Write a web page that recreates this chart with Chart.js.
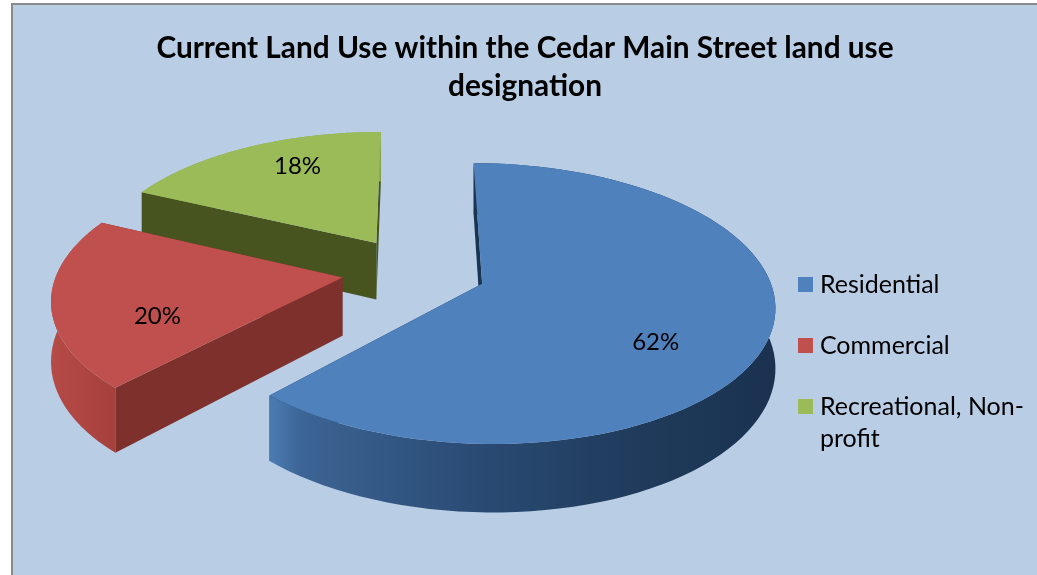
<!DOCTYPE html>
<html>
<head>
<meta charset="utf-8">
<title>Current Land Use</title>
<script src="https://cdn.jsdelivr.net/npm/chart.js@4"></script>
<style>
    html, body { margin: 0; padding: 0; background: #ffffff; overflow: hidden; }
    #frame {
        position: absolute; left: 11px; top: 3px; width: 1026px; height: 572px;
        box-sizing: border-box; border-left: 2px solid #8a8a8a; border-top: 2px solid #8a8a8a;
        background: #b9cde5;
    }
    #land-use { display: block; }
</style>
</head>
<body>
<div id="frame"><canvas id="land-use" width="1024" height="570"></canvas></div>
<script>
const titleLines = ['Current Land Use within the Cedar Main Street land use', 'designation'];
const categories = ['Residential', 'Commercial', 'Recreational, Non-profit'];
const legendLines = [['Residential'], ['Commercial'], ['Recreational, Non-', 'profit']];
const shares = [62, 20, 18];

const topColors = ['#4f81bd', '#c0504d', '#9bbb59'];
const radialWallColors = ['#1b3450', '#7e302d', '#47541f'];
const labelShift = [[5, 27], [-12, 23], [2, -17]];
const legendShift = [-3, 75];

// tilt of the pie: plane coordinates (radius = 1) to canvas pixels
const CX = 401, CY = 266, SX = 285, SY = 134, PERSP = 0.14, DEPTH = 58;

function project(x, y, z) {
    const w = 1 - PERSP * y;
    return [CX + SX * x / w, CY + SY * y / w + (z || 0) * DEPTH / w];
}

function slicePlane(arc) {
    const mid = (arc.startAngle + arc.endAngle) / 2;
    const explode = arc.options.offset / arc.outerRadius;
    return { ox: explode * Math.cos(mid), oy: explode * Math.sin(mid), mid };
}

function rimPoints(arc, z) {
    const p = slicePlane(arc);
    const pts = [];
    const steps = 90;
    for (let i = 0; i <= steps; i++) {
        const a = arc.startAngle + (arc.endAngle - arc.startAngle) * i / steps;
        pts.push(project(p.ox + Math.cos(a), p.oy + Math.sin(a), z));
    }
    return pts;
}

function fillPoly(ctx, pts, fill) {
    ctx.beginPath();
    pts.forEach((pt, i) => i ? ctx.lineTo(pt[0], pt[1]) : ctx.moveTo(pt[0], pt[1]));
    ctx.closePath();
    ctx.fillStyle = fill;
    ctx.fill();
}

function rimGradient(ctx, index) {
    if (index === 0) {
        const g = ctx.createLinearGradient(260, 0, 760, 0);
        g.addColorStop(0, '#4a79b0');
        g.addColorStop(0.06, '#3c6494');
        g.addColorStop(0.4, '#2a4b74');
        g.addColorStop(0.75, '#1f3a5a');
        g.addColorStop(1, '#1a3250');
        return g;
    }
    if (index === 1) {
        const g = ctx.createLinearGradient(30, 0, 115, 0);
        g.addColorStop(0, '#b84c48');
        g.addColorStop(1, '#a23e3b');
        return g;
    }
    return '#8fa94f';
}

function legendSwatch(color) {
    const c = document.createElement('canvas');
    c.width = 15;
    c.height = 15;
    const g = c.getContext('2d');
    g.fillStyle = color;
    g.fillRect(0, 0, 15, 15);
    return c;
}

const pie3d = {
    id: 'pie3d',
    afterLayout(chart) {
        chart.legend.left += legendShift[0];
        chart.legend.right += legendShift[0];
        chart.legend.top += legendShift[1];
        chart.legend.bottom += legendShift[1];
    },
    beforeDatasetsDraw(chart) {
        const ctx = chart.ctx;
        const arcs = chart.getDatasetMeta(0).data;
        // back to front, so the nearer slices cover the walls behind them
        [2, 1, 0].forEach(i => {
            const arc = arcs[i];
            const p = slicePlane(arc);
            const apexTop = project(p.ox, p.oy, 0);
            const apexLow = project(p.ox, p.oy, 1);
            const rimTop = rimPoints(arc, 0);
            const rimLow = rimPoints(arc, 1);
            const last = rimTop.length - 1;
            fillPoly(ctx, [apexTop, rimTop[last], rimLow[last], apexLow], radialWallColors[i]);
            fillPoly(ctx, rimTop.concat(rimLow.slice().reverse()), rimGradient(ctx, i));
            fillPoly(ctx, [apexTop, rimTop[0], rimLow[0], apexLow], radialWallColors[i]);
            fillPoly(ctx, [apexTop].concat(rimTop), topColors[i]);
        });
        ctx.save();
        ctx.font = '24px Lato';
        ctx.fillStyle = '#000000';
        ctx.textAlign = 'center';
        ctx.textBaseline = 'middle';
        arcs.forEach((arc, i) => {
            const p = slicePlane(arc);
            const pt = project(p.ox + 0.6 * Math.cos(p.mid), p.oy + 0.6 * Math.sin(p.mid), 0);
            ctx.fillText(shares[i] + '%', pt[0] + labelShift[i][0], pt[1] + labelShift[i][1]);
        });
        ctx.restore();
        return false;
    }
};

new Chart(document.getElementById('land-use').getContext('2d'), {
    type: 'pie',
    plugins: [pie3d],
    data: {
        labels: categories,
        datasets: [{
            data: shares,
            backgroundColor: topColors,
            offset: 52,
            borderWidth: 0
        }]
    },
    options: {
        responsive: false,
        animation: false,
        rotation: 0,
        plugins: {
            title: {
                display: true,
                text: titleLines,
                color: '#000000',
                font: { family: 'Lato', size: 29.8, weight: 'bold', lineHeight: 1.28 },
                padding: { top: 24, bottom: 8 }
            },
            tooltip: { enabled: false },
            legend: {
                position: 'right',
                labels: {
                    color: '#000000',
                    font: { family: 'Lato', size: 25, lineHeight: 1.28 },
                    usePointStyle: true,
                    pointStyleWidth: 4,
                    boxHeight: 15,
                    padding: 36,
                    generateLabels: () => legendLines.map((text, i) => ({
                        text: text.length > 1 ? text : text[0],
                        fillStyle: topColors[i],
                        strokeStyle: topColors[i],
                        pointStyle: legendSwatch(topColors[i]),
                        lineWidth: 0,
                        hidden: false,
                        index: i
                    }))
                }
            }
        }
    }
});
</script>
</body>
</html>
